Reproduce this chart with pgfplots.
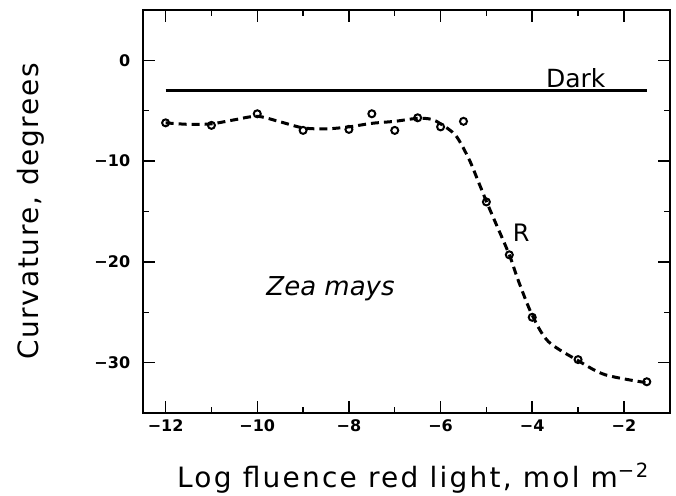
\documentclass[border=0pt]{standalone}
\usepackage{pgfplots}
\pgfplotsset{compat=1.18}
\usepackage{fontspec}
\setmainfont{DejaVu Sans}

% fitted response curve (dashed) and measured points (circles)
\pgfplotstableread{
x y
-12 -6.2
-11 -6.45
-10 -5.3
-9 -6.95
-8 -6.85
-7.5 -5.3
-7 -6.95
-6.5 -5.7
-6 -6.6
-5.5 -6.05
-5 -14.05
-4.5 -19.3
-4 -25.5
-3 -29.7
-1.5 -31.9
}\measured

\pgfplotstableread{
x y
-12 -6.2
-11.5 -6.35
-11 -6.3
-10.5 -5.9
-10 -5.55
-9.5 -6.1
-9 -6.7
-8.5 -6.8
-8 -6.6
-7.5 -6.25
-7 -6.05
-6.5 -5.75
-6.2 -5.85
-6 -6.3
-5.67 -7.45
-5.38 -9.8
-5.17 -12.1
-5 -14.0
-4.84 -15.7
-4.5 -19.3
-4.3 -21.9
-4 -25.3
-3.65 -27.9
-3 -29.8
-2.41 -31.2
-1.5 -32.0
}\fitted

\begin{document}
\begin{tikzpicture}
\useasboundingbox (0,0) rectangle (676pt,495pt);
\begin{axis}[
  at={(142.7pt,82pt)}, anchor=south west,
  scale only axis,
  width=527pt, height=403pt,
  xmin=-12.5, xmax=-1, ymin=-35, ymax=5,
  xtick={-12,-10,-8,-6,-4,-2},
  xticklabels={−12,−10,−8,−6,−4,−2},
  minor xtick={-11,-9,-7,-5,-3},
  ytick={-30,-20,-10,0},
  yticklabels={−30,−20,−10,0},
  minor ytick={-25,-15,-5},
  tick align=inside,
  major tick length=12pt, minor tick length=6pt,
  every tick/.style={line width=1.5pt, black},
  axis line style={line width=1.8pt},
  xticklabel style={font=\fontsize{16}{16}\selectfont\bfseries, yshift=-3pt},
  yticklabel style={font=\fontsize{16}{16}\selectfont\bfseries, xshift=-9pt},
  xlabel={Log fluence red light, mol m\textsuperscript{−2}},
  ylabel={Curvature, degrees},
  xlabel style={font=\fontsize{28}{28}\selectfont\addfontfeature{LetterSpace=8},
    at={(axis description cs:0.513,0)}, anchor=base, yshift=-74pt},
  ylabel style={font=\fontsize{28}{28}\selectfont\addfontfeature{LetterSpace=6},
    at={(axis description cs:-0.212,0.5)}, anchor=center},
  clip=false,
]
% dark control level
\addplot[black, line width=3pt] coordinates {(-12,-3) (-1.5,-3)};
\addplot[black, line width=3pt, smooth, tension=0.5,
  dash pattern=on 8pt off 5pt] table {\fitted};
\addplot[only marks, mark=o, mark size=3.5pt,
  mark options={line width=2pt, fill=white, black}] table {\measured};
\node[anchor=base, font=\fontsize{25}{25}\selectfont] at (axis cs:-3.05,-2.7) {Dark};
\node[anchor=center, font=\fontsize{24}{24}\selectfont] at (axis cs:-4.24,-17.1) {R};
\node[anchor=base, font=\fontsize{26}{26}\selectfont\itshape] at (axis cs:-8.4,-23.3) {Zea mays};
\end{axis}
\end{tikzpicture}
\end{document}
